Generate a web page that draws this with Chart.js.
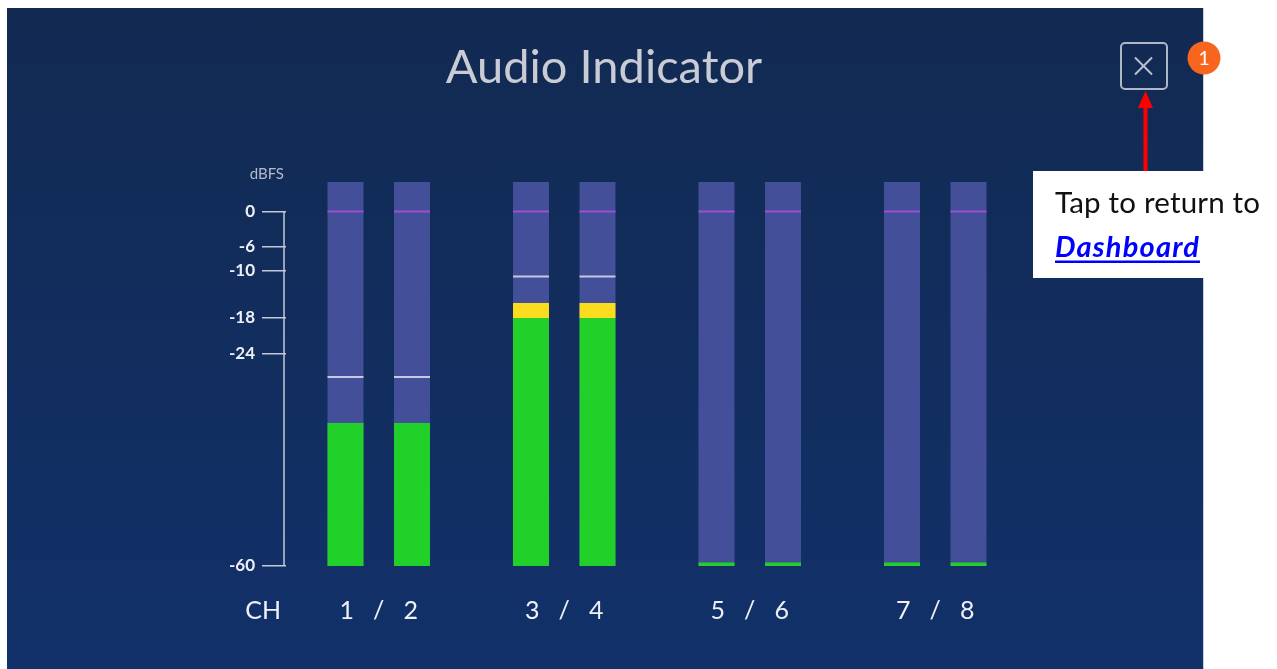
<!DOCTYPE html>
<html><head><meta charset="utf-8">
<script src="https://cdn.jsdelivr.net/npm/chart.js@4.4.1/dist/chart.umd.min.js"></script>
<style>
html,body{margin:0;padding:0;background:#fff;width:1277px;height:669px;overflow:hidden;position:relative}
#panel{position:absolute;left:7px;top:8px;width:1196px;height:661px;background:linear-gradient(#122a52,#12316a);border-right:1px solid #c6cfdf;box-sizing:content-box}
#panel canvas{display:block}
#ov{position:absolute;left:0;top:0}
</style></head><body>
<div id="panel"><canvas id="c" width="1196" height="661"></canvas></div>
<svg id="ov" width="1277" height="669">
  <rect x="1121" y="43" width="46" height="46" rx="4" fill="none" stroke="#aeb6c8" stroke-width="2"/>
  <line x1="1135" y1="57.5" x2="1152" y2="74.5" stroke="#b9c0d1" stroke-width="2"/>
  <line x1="1152" y1="57.5" x2="1135" y2="74.5" stroke="#b9c0d1" stroke-width="2"/>
  <circle cx="1204" cy="58" r="16.5" fill="#f7661c"/>
  <text x="1204" y="65" font-family="Lato" font-size="20" fill="#ffffff" text-anchor="middle">1</text>
  <rect x="1143.5" y="105" width="4" height="66" fill="#ff0000"/>
  <polygon points="1145.5,91 1138,108 1153,108" fill="#ff0000"/>
  <rect x="1033" y="171" width="244" height="107" fill="#ffffff"/>
  <text x="1055" y="213" font-family="Lato" font-size="29.5" fill="#111111" textLength="205" lengthAdjust="spacing">Tap to return to</text>
  <text x="1055" y="257" font-family="Lato" font-size="29" font-weight="bold" font-style="italic" fill="#0000ff" textLength="144" lengthAdjust="spacing">Dashboard</text>
  <rect x="1055" y="260.5" width="145" height="2.5" fill="#0000ff"/>
</svg>
<script>
// ---- data ----
const CATEGORIES = ['1 / 2', '3 / 4', '5 / 6', '7 / 8'];
const Y_TICKS = [0, -6, -10, -18, -24, -60];
const SCALE_MIN = -60;
const SCALE_MAX = 5;
const REF_LEVEL = 0;          // purple 0 dBFS marker
const YELLOW_FROM = -18;      // green -> yellow threshold
const ODD_LEVEL = [-35.8, -15.5, -59.4, -59.4];   // CH 1,3,5,7
const EVEN_LEVEL = [-35.8, -15.5, -59.4, -59.4];  // CH 2,4,6,8
const ODD_PEAK = [-28, -11, null, null];
const EVEN_PEAK = [-28, -11, null, null];

function channelSets(levels, peaks, stack) {
  return [
    {label: 'ref', data: levels.map(() => [REF_LEVEL - 0.16, REF_LEVEL + 0.16]), backgroundColor: '#a04fd4', stack, order: 1},
    {label: 'peak', data: peaks.map(p => p == null ? null : [p - 0.17, p + 0.17]), backgroundColor: '#c6c9e4', stack, order: 2},
    {label: 'yellow', data: levels.map(l => l > YELLOW_FROM ? [YELLOW_FROM, l] : null), backgroundColor: '#fcdc1e', stack, order: 3},
    {label: 'green', data: levels.map(l => [SCALE_MIN, Math.min(l, YELLOW_FROM)]), backgroundColor: '#22d02a', stack, order: 4},
    {label: 'bg', data: levels.map(() => [SCALE_MIN, SCALE_MAX]), backgroundColor: '#434f98', stack, order: 5}
  ];
}

const deco = {
  id: 'deco',
  afterDraw(chart) {
    const {ctx, chartArea: a, scales: {x, y}} = chart;
    ctx.save();
    ctx.strokeStyle = '#c4c8d6';
    ctx.lineWidth = 1.5;
    const ax = a.left - 2;
    ctx.beginPath();
    ctx.moveTo(ax, y.getPixelForValue(REF_LEVEL));
    ctx.lineTo(ax, y.getPixelForValue(SCALE_MIN));
    ctx.stroke();
    ctx.fillStyle = '#b4b9cb';
    ctx.font = '15px Lato';
    ctx.textAlign = 'right';
    ctx.textBaseline = 'middle';
    ctx.fillText('dBFS', ax, y.getPixelForValue(SCALE_MAX) - 8);
    ctx.fillStyle = '#eef0f6';
    ctx.font = '25px Lato';
    ctx.fillText('CH', ax - 3, x.top + 45);
    ctx.fillStyle = '#c9ccd4';
    ctx.font = '47px Lato';
    ctx.textAlign = 'center';
    ctx.textBaseline = 'alphabetic';
    ctx.fillText('Audio Indicator', 597, 75);
    ctx.restore();
  }
};

function build() {
  new Chart(document.getElementById('c'), {
    type: 'bar',
    data: {
      labels: CATEGORIES,
      datasets: [...channelSets(ODD_LEVEL, ODD_PEAK, 'odd'), ...channelSets(EVEN_LEVEL, EVEN_PEAK, 'even')]
    },
    options: {
      responsive: false,
      animation: false,
      borderWidth: 0,
      categoryPercentage: 0.717,
      barPercentage: 0.541,
      layout: {padding: {top: 174, right: 175, bottom: 43, left: 0}},
      plugins: {legend: {display: false}, tooltip: {enabled: false}, title: {display: false}},
      scales: {
        x: {
          grid: {display: false, drawTicks: false},
          border: {display: false},
          ticks: {
            color: '#eef0f6',
            font: {family: 'Lato', size: 25},
            padding: 30,
            callback(v) { return CATEGORIES[v].replace(' / ', '   /   '); }
          },
          afterFit(s) { s.height = 60; }
        },
        y: {
          min: SCALE_MIN,
          max: SCALE_MAX,
          stacked: false,
          border: {display: false},
          grid: {drawOnChartArea: false, drawTicks: true, tickLength: 24, color: '#c4c8d6', lineWidth: 1.5},
          ticks: {color: '#eef0f6', font: {family: 'Lato', size: 17, weight: 'bold'}, padding: 7, callback(v) { return String(v); }},
          afterBuildTicks(s) { s.ticks = Y_TICKS.map(v => ({value: v})); },
          afterFit(s) { s.width = 279; }
        }
      }
    },
    plugins: [deco]
  });
}
Promise.all([
  document.fonts.load('47px Lato'),
  document.fonts.load('bold 16px Lato'),
  document.fonts.load('bold italic 29px Lato')
]).then(build, build);
</script>
</body></html>
